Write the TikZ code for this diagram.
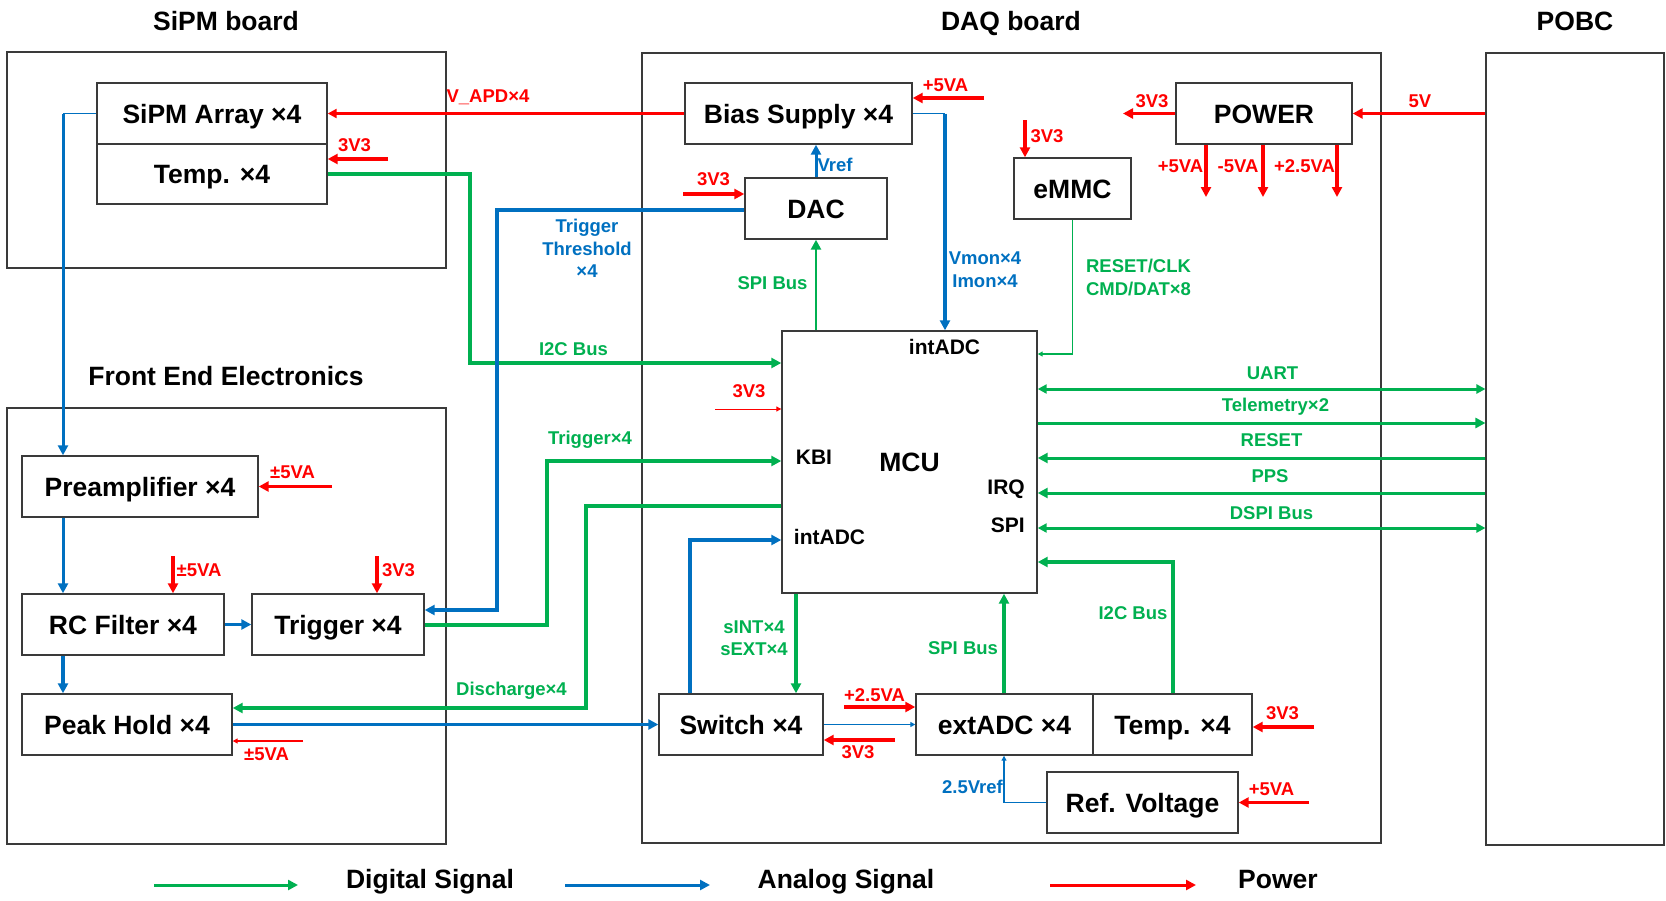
\documentclass[tikz,border=0pt]{standalone}
\usepackage{fontspec}
\setmainfont{Liberation Sans}
\usetikzlibrary{arrows.meta}
\definecolor{dgreen}{HTML}{00B050}
\definecolor{ablue}{HTML}{0070C0}
\definecolor{pred}{HTML}{FF0000}
\definecolor{edge}{HTML}{3A3A3A}
\newcommand\FontBig{\fontsize{26.5}{30}\selectfont\bfseries}
\newcommand\FontMcu{\fontsize{21}{25}\selectfont\bfseries}
\newcommand\FontSmall{\fontsize{18.5}{22.5}\selectfont\bfseries}
\tikzset{
  box/.style={draw=edge, line width=1.4pt, inner sep=0pt, minimum height=61pt, text height=19pt, text depth=0pt, font=\FontBig},
  frame/.style={draw=edge, line width=1.1pt, inner sep=0pt},
  title/.style={font=\FontBig, inner sep=0pt, text height=19pt, text depth=0pt},
  mcutxt/.style={font=\FontMcu, inner sep=0pt},
  lab/.style={font=\FontSmall, inner sep=0pt, align=center},
  glab/.style={lab, text=dgreen},
  blab/.style={lab, text=ablue},
  rlab/.style={lab, text=pred},
  sig/.style={line width=3.5pt, -{Triangle[length=10pt,width=10pt]}},
  midsig/.style={-{Triangle[length=9pt,width=9pt]}},
  thinsig/.style={line width=1.3pt, -{Triangle[length=5pt,width=5pt]}},
  dg/.style={draw=dgreen},
  ab/.style={draw=ablue},
  pw/.style={draw=pred}
}
\begin{document}
\begin{tikzpicture}[x=1pt,y=-1pt]
\useasboundingbox (0,0) rectangle (1666,900);

% ---------- frames and titles ----------
\node[frame, minimum width=439pt, minimum height=216pt] (sipmboard) at (226.5,160) {};
\node[frame, minimum width=439pt, minimum height=436pt] (fee) at (226.5,626) {};
\node[frame, minimum width=739pt, minimum height=790pt] (daq) at (1011.5,448) {};
\node[frame, minimum width=178pt, minimum height=792pt] (pobc) at (1575,449) {};
\node[title] (tsipm) at (226,21) {SiPM board};
\node[title] (tdaq) at (1011,21) {DAQ board};
\node[title] (tpobc) at (1575,21) {POBC};
\node[title] (tfee) at (226,376) {Front End Electronics};

% ---------- boxes ----------
\node[box, minimum width=230pt] (sipm) at (212,113.5) {SiPM Array ×4};
\node[box, minimum width=230pt, minimum height=60pt] (temp1) at (212,174) {Temp. ×4};
\node[box, minimum width=236pt] (preamp) at (140,486.5) {Preamplifier ×4};
\node[box, minimum width=202pt] (rc) at (123,624.5) {RC Filter ×4};
\node[box, minimum width=172pt] (trig) at (338,624.5) {Trigger ×4};
\node[box, minimum width=210pt] (peak) at (127,724.5) {Peak Hold ×4};
\node[box, minimum width=227pt] (bias) at (798.5,113.5) {Bias Supply ×4};
\node[box, minimum width=142pt] (dac) at (816,208.5) {DAC};
\node[box, minimum width=117pt] (emmc) at (1072.5,188.5) {eMMC};
\node[box, minimum width=176pt] (power) at (1264,113.5) {POWER};
\node[box, minimum width=255pt, minimum height=262pt] (mcu) at (909.5,462) {MCU};
\node[box, minimum width=164pt] (switch) at (741,724.5) {Switch ×4};
\node[box, minimum width=177pt] (extadc) at (1004.5,724.5) {extADC ×4};
\node[box, minimum width=159pt] (temp2) at (1172.5,724.5) {Temp. ×4};
\node[box, minimum width=191pt] (ref) at (1142.5,802.5) {Ref. Voltage};

% MCU port labels
\node[mcutxt] (mintadc) at (944.5,347) {intADC};
\node[mcutxt] (mkbi) at (814,457) {KBI};
\node[mcutxt, anchor=east] (mirq) at (1025,489) {IRQ};
\node[mcutxt, anchor=east] (mspi) at (1025,525) {SPI};
\node[mcutxt] (mintadc2) at (829.5,537) {intADC};

% ---------- SiPM board ----------
\draw[pw, line width=2.2pt, midsig] (bias.west) -- (sipm.east);
\node[rlab] (lvapd) at (488,97) {V\_APD×4};
\coordinate (pt1) at (388,159);
\draw[pw, sig] (pt1) -- (pt1 -| temp1.east);
\node[rlab] (l3v3a) at (354.5,145) {3V3};
\coordinate (i2cA) at (470,363);
\draw[dg, sig] (temp1.east) -| (i2cA) -- (i2cA -| mcu.west);
\node[glab] (li2c1) at (573.5,349) {I2C Bus};

% ---------- front end ----------
\coordinate (tap) at (63,113.5);
\draw[ab, line width=1.3pt] (sipm.west) -- (tap);
\draw[ab, sig, line width=3pt] (tap) -- (tap |- preamp.north);
\draw[ab, sig, line width=3pt] (preamp.south -| tap) -- (rc.north -| tap);
\draw[ab, sig, line width=4pt] (rc.south -| tap) -- (peak.north -| tap);
\draw[ab, sig, line width=3pt] (rc.east) -- (trig.west);
\coordinate (ppre) at (332,486.5);
\draw[pw, sig] (ppre) -- (preamp.east);
\node[rlab] (l5a) at (292.5,472) {±5VA};
\coordinate (prc) at (173,556);
\draw[pw, sig] (prc) -- (prc |- rc.north);
\node[rlab] (l5b) at (199,570) {±5VA};
\coordinate (ptr) at (377,556);
\draw[pw, sig] (ptr) -- (ptr |- trig.north);
\node[rlab] (l3v3b) at (398.5,570) {3V3};
\coordinate (ppk) at (303,741);
\draw[pw, thinsig] (ppk) -- (ppk -| peak.east);
\node[rlab] (l5c) at (266.5,754) {±5VA};

% threshold
\coordinate (thA) at (497,210);
\coordinate (thB) at (497,610);
\draw[ab, sig] (thA -| dac.west) -- (thA) -- (thB) -- (thB -| trig.east);
\node[blab] (lthr) at (587,248.5) {Trigger\\Threshold\\×4};
% trigger to KBI
\coordinate (tgA) at (547,625);
\coordinate (tgB) at (547,461);
\draw[dg, sig] (tgA -| trig.east) -- (tgA) -- (tgB) -- (tgB -| mcu.west);
\node[glab] (ltrg) at (590,440) {Trigger×4};
% discharge
\coordinate (dcA) at (586,506);
\coordinate (dcB) at (586,708);
\draw[dg, sig] (dcA -| mcu.west) -- (dcA) -- (dcB) -- (dcB -| peak.east);
\node[glab] (ldis) at (511.5,691) {Discharge×4};
% peak hold to switch
\draw[ab, sig] (peak.east) -- (switch.west);

% ---------- DAQ ----------
\draw[ab, sig, line width=3pt] (dac.north) -- (bias.south -| dac.north);
\node[blab] (lvref) at (835,165) {Vref};
\coordinate (pdac) at (683,194);
\draw[pw, sig] (pdac) -- (pdac -| dac.west);
\node[rlab] (l3v3c) at (713.5,179) {3V3};
\draw[dg, sig, line width=2.8pt] (mcu.north -| dac.south) -- (dac.south);
\node[glab] (lspi1) at (772.5,283) {SPI Bus};
\coordinate (pbias) at (984,98);
\draw[pw, sig] (pbias) -- (pbias -| bias.east);
\node[rlab] (l5d) at (945.5,85) {+5VA};
\coordinate (vmA) at (945,113.5);
\draw[ab, line width=1.3pt] (bias.east) -- (vmA);
\draw[ab, sig] (vmA) -- (vmA |- mcu.north);
\node[blab] (lvmon) at (985,269.5) {Vmon×4\\Imon×4};
\coordinate (pem) at (1025,120);
\draw[pw, sig] (pem) -- (pem |- emmc.north);
\node[rlab] (l3v3d) at (1047,136) {3V3};
\coordinate (emA) at (1072.5,354);
\draw[dg, thinsig, line width=1.8pt] (emmc.south) -- (emA) -- (emA -| mcu.east);
\node[glab] (lemmc) at (1138.5,277.5) {RESET/CLK\\CMD/DAT×8};
\coordinate (pout) at (1123,113.5);
\draw[pw, sig] (power.west) -- (pout);
\node[rlab] (l3v3e) at (1152,101) {3V3};
\draw[pw, sig] (pobc.west |- power.east) -- (power.east);
\node[rlab] (l5v) at (1420,101) {5V};
\coordinate (pd1) at (1206,197);
\coordinate (pd2) at (1263,197);
\coordinate (pd3) at (1337,197);
\draw[pw, sig] (pd1 |- power.south) -- (pd1);
\draw[pw, sig] (pd2 |- power.south) -- (pd2);
\draw[pw, sig] (pd3 |- power.south) -- (pd3);
\node[rlab] (lpd1) at (1180.5,166) {+5VA};
\node[rlab] (lpd2) at (1238,166) {-5VA};
\node[rlab] (lpd3) at (1304.5,166) {+2.5VA};
\coordinate (pmcu) at (715,409);
\draw[pw, thinsig, line width=1pt] (pmcu) -- (pmcu -| mcu.west);
\node[rlab] (l3v3f) at (749,391) {3V3};

% POBC links
\coordinate (yuart) at (1270,389);
\coordinate (ytel) at (1270,423);
\coordinate (yrst) at (1270,458);
\coordinate (ypps) at (1270,493);
\coordinate (ydspi) at (1270,528);
\draw[dg, sig, line width=3pt, {Triangle[length=9pt,width=9pt]}-{Triangle[length=9pt,width=9pt]}] (yuart -| mcu.east) -- (yuart -| pobc.west);
\draw[dg, sig, line width=3pt] (ytel -| mcu.east) -- (ytel -| pobc.west);
\draw[dg, sig, line width=3pt] (yrst -| pobc.west) -- (yrst -| mcu.east);
\draw[dg, sig, line width=3pt] (ypps -| pobc.west) -- (ypps -| mcu.east);
\draw[dg, sig, line width=3pt, {Triangle[length=9pt,width=9pt]}-{Triangle[length=9pt,width=9pt]}] (ydspi -| mcu.east) -- (ydspi -| pobc.west);
\node[glab] (luart) at (1272.5,373) {UART};
\node[glab] (ltel) at (1275.5,407) {Telemetry×2};
\node[glab] (lrst) at (1271.5,440) {RESET};
\node[glab] (lpps) at (1270,476) {PPS};
\node[glab] (ldspi) at (1271.5,513) {DSPI Bus};

% bottom DAQ
\coordinate (swA) at (690,540);
\draw[ab, sig] (swA |- switch.north) -- (swA) -- (swA -| mcu.west);
\coordinate (swB) at (796,600);
\draw[dg, sig] (swB |- mcu.south) -- (swB |- switch.north);
\node[glab] (lsw) at (754,638) {sINT×4\\sEXT×4};
\draw[ab, thinsig] (switch.east) -- (extadc.west);
\coordinate (p25) at (844,707);
\draw[pw, sig] (p25) -- (p25 -| extadc.west);
\node[rlab] (l25) at (874.5,695) {+2.5VA};
\coordinate (psw) at (895,740);
\draw[pw, sig] (psw) -- (psw -| switch.east);
\node[rlab] (l3v3g) at (858,752) {3V3};
\coordinate (spiA) at (1004,650);
\draw[dg, sig] (spiA |- extadc.north) -- (spiA |- mcu.south);
\node[glab] (lspi2) at (963,648) {SPI Bus};
\coordinate (i2cB) at (1173,562);
\draw[dg, sig] (i2cB |- temp2.north) -- (i2cB) -- (i2cB -| mcu.east);
\node[glab] (li2c2) at (1133,613) {I2C Bus};
\coordinate (pt2) at (1314,727);
\draw[pw, sig] (pt2) -- (pt2 -| temp2.east);
\node[rlab] (l3v3h) at (1282.5,713) {3V3};
\coordinate (refA) at (1004,802.5);
\draw[ab, thinsig] (ref.west) -- (refA) -- (refA |- extadc.south);
\node[blab] (lref) at (972.5,787) {2.5Vref};
\coordinate (pref) at (1309,802.5);
\draw[pw, sig] (pref) -- (ref.east);
\node[rlab] (l5e) at (1271.5,789) {+5VA};

% ---------- legend ----------
\coordinate (lgA1) at (154,885);
\coordinate (lgA2) at (298,885);
\coordinate (lgB1) at (565,885);
\coordinate (lgB2) at (710,885);
\coordinate (lgC1) at (1050,885);
\coordinate (lgC2) at (1196,885);
\draw[dg, sig, line width=3pt] (lgA1) -- (lgA2);
\draw[ab, sig, line width=3pt] (lgB1) -- (lgB2);
\draw[pw, sig, line width=3pt] (lgC1) -- (lgC2);
\node[title] (lgdig) at (430,879) {Digital Signal};
\node[title] (lgana) at (846,879) {Analog Signal};
\node[title] (lgpow) at (1278,879) {Power};
\end{tikzpicture}
\end{document}
